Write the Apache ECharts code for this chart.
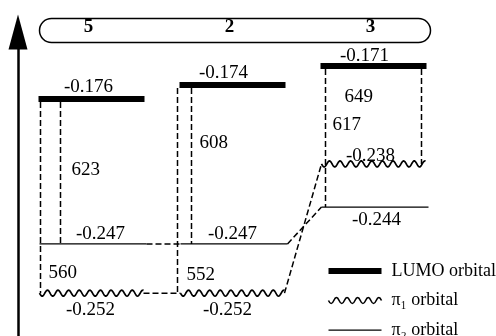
<!DOCTYPE html>
<html>
<head>
<meta charset="utf-8">
<script src="https://cdn.jsdelivr.net/npm/echarts@6.0.0/dist/echarts.min.js"></script>
<style>
  html, body { margin: 0; padding: 0; background: #fff; }
  #chart { width: 496px; height: 336px; }
</style>
</head>
<body>
<div id="chart"></div>
<script>
// compounds shown in the top band
const compounds = ['5', '2', '3'];
// orbital energies (a.u.)
const lumoEnergy = [-0.176, -0.174, -0.171];
const pi1Energy = [-0.252, -0.252, -0.238];
const pi2Energy = [-0.247, -0.247, -0.244];
// schematic height of each level as drawn (0-100, not to scale)
const lumoLevel = [78.0, 82.6, 88.8];
const pi1Level = [14.1, 14.1, 56.6];
const pi2Level = [30.3, 30.3, 42.4];
// transition wavelengths (nm): LUMO -> pi1, LUMO -> pi2
const nmPi1 = [560, 552, 649];
const nmPi2 = [623, 608, 617];

const FONT = '"Liberation Serif", "Times New Roman", serif';

// horizontal extent of each level around its column centre (px) and energy label offset [dx, dy]
const layout = {
  lumo: { ext: [-50, 56], label: [[0, -12], [-6, -12], [-6, -10]] },
  pi1: { ext: [-49, 55], label: [[2, 17], [-2, 17], [0, -8]] },
  pi2: { ext: [-49, 58], label: [[12, -10], [3, -10], [6, 13]] }
};
// dashed drop lines: x offset from column centre, wavelength label [dx, level]
const drops = {
  pi1: { dx: [-48, -52, 51], label: [[-40, 20.7], [-43, 20.1], [-26, 78.6]] },
  pi2: { dx: [-28, -38, -45], label: [[-17, 54.6], [-30, 63.5], [-38, 69.4]] }
};
const kinds = ['pi1', 'pi2'];
const DASH = [6, 3];

function wavePoints(x1, x2, y, period, amp) {
  const pts = [];
  for (let x = x1; x <= x2 + 0.01; x += 0.5) {
    pts.push([x, y + amp * Math.sin((x - x1) / period * 2 * Math.PI)]);
  }
  return pts;
}

function wavePathString(x1, x2, y, period, amp) {
  const half = period / 2;
  const n = Math.round((x2 - x1) / half);
  const step = (x2 - x1) / n;
  let d = 'M' + x1 + ',' + y;
  for (let k = 0; k < n; k++) {
    const s = k % 2 ? -1 : 1;
    d += 'Q' + (x1 + step * (k + 0.5)).toFixed(2) + ',' + (y + s * 2 * amp) + ',' + (x1 + step * (k + 1)).toFixed(2) + ',' + y;
  }
  return d;
}

function levelSeries(name, kind, energies, levels) {
  return {
    name: name,
    type: 'custom',
    data: energies.map((e, i) => [i, levels[i], e]),
    encode: { x: 0, y: 1 },
    itemStyle: { color: '#000' },
    renderItem(params, api) {
      const i = api.value(0);
      const p = api.coord([i, api.value(1)]);
      const ext = layout[kind].ext;
      const x1 = p[0] + ext[0], x2 = p[0] + ext[1], y = p[1];
      let mark;
      if (kind === 'lumo') {
        mark = { type: 'rect', shape: { x: x1, y: y - 3, width: x2 - x1, height: 6 }, style: { fill: '#000' } };
      } else if (kind === 'pi1') {
        mark = { type: 'polyline', shape: { points: wavePoints(x1, x2, y, 10.6, 3) }, style: { fill: 'none', stroke: '#000', lineWidth: 1.7 } };
      } else {
        mark = { type: 'line', shape: { x1: x1, y1: y, x2: x2, y2: y }, style: { stroke: '#000', lineWidth: 1.3 } };
      }
      const off = layout[kind].label[i];
      const text = {
        type: 'text',
        style: {
          text: api.value(2).toFixed(3), x: p[0] + off[0], y: y + off[1],
          align: 'center', verticalAlign: 'middle', font: '19px ' + FONT, fill: '#000'
        }
      };
      return { type: 'group', children: [mark, text] };
    }
  };
}

const transitionData = [];
compounds.forEach((c, i) => {
  transitionData.push([i, lumoLevel[i], pi1Level[i], nmPi1[i], 0]);
  transitionData.push([i, lumoLevel[i], pi2Level[i], nmPi2[i], 1]);
});

const connectorData = [];
for (let i = 0; i < compounds.length - 1; i++) {
  connectorData.push([i, pi1Level[i], pi1Level[i + 1], 0]);
  connectorData.push([i, pi2Level[i], pi2Level[i + 1], 1]);
}

const chart = echarts.init(document.getElementById('chart'));
const option = {
  animation: false,
  backgroundColor: '#fff',
  grid: { left: 18, right: 55, top: 32, bottom: 0 },
  xAxis: {
    type: 'category',
    data: compounds,
    position: 'top',
    axisLine: { show: false },
    axisTick: { show: false },
    axisLabel: { margin: -5, color: '#000', fontFamily: 'Liberation Serif', fontSize: 19, fontWeight: 'bold' },
    splitLine: { show: false }
  },
  yAxis: {
    type: 'value',
    min: 0,
    max: 100,
    axisLine: {
      show: true,
      symbol: ['none', 'triangle'],
      symbolSize: [19, 35],
      lineStyle: { color: '#000', width: 2.5 }
    },
    axisTick: { show: false },
    axisLabel: { show: false },
    splitLine: { show: false }
  },
  graphic: [{
    type: 'rect',
    left: 37, top: 16,
    shape: { width: 391, height: 24, r: 12 },
    style: { fill: 'none', stroke: '#000', lineWidth: 1.5 }
  }],
  legend: {
    orient: 'vertical',
    left: 321,
    top: 257,
    height: 120,
    itemWidth: 58,
    itemHeight: 16,
    itemGap: 10,
    selectedMode: false,
    textStyle: { fontFamily: FONT, fontSize: 18, color: '#000' },
    data: [
      { name: 'LUMO orbital', icon: 'path://M0,0M0,5h53v6h-53zM58,16', itemStyle: { color: '#000', borderWidth: 0 } },
      { name: 'π₁ orbital', icon: 'path://M0,0' + wavePathString(0, 53, 8, 10.6, 3) + 'M58,16', itemStyle: { color: 'none', borderColor: '#000', borderWidth: 1.6 } },
      { name: 'π₂ orbital', icon: 'path://M0,0M0,7.4h53v1.3h-53zM58,16', itemStyle: { color: '#000', borderWidth: 0 } }
    ]
  },
  series: [
    levelSeries('LUMO orbital', 'lumo', lumoEnergy, lumoLevel),
    levelSeries('π₁ orbital', 'pi1', pi1Energy, pi1Level),
    levelSeries('π₂ orbital', 'pi2', pi2Energy, pi2Level),
    {
      name: 'transitions',
      type: 'custom',
      data: transitionData,
      encode: { x: 0, y: 1 },
      renderItem(params, api) {
        const i = api.value(0);
        const kind = kinds[api.value(4)];
        const top = api.coord([i, api.value(1)]);
        const bot = api.coord([i, api.value(2)]);
        const x = top[0] + drops[kind].dx[i];
        const lab = drops[kind].label[i];
        const lp = api.coord([i, lab[1]]);
        return {
          type: 'group',
          children: [
            { type: 'line', shape: { x1: x, y1: top[1] + 3, x2: x, y2: bot[1] }, style: { stroke: '#000', lineWidth: 1.5, lineDash: DASH } },
            { type: 'text', style: { text: String(api.value(3)), x: lp[0] + lab[0], y: lp[1], align: 'left', verticalAlign: 'middle', font: '19px ' + FONT, fill: '#000' } }
          ]
        };
      }
    },
    {
      name: 'connectors',
      type: 'custom',
      data: connectorData,
      encode: { x: 0, y: 1 },
      renderItem(params, api) {
        const i = api.value(0);
        const kind = kinds[api.value(3)];
        const a = api.coord([i, api.value(1)]);
        const b = api.coord([i + 1, api.value(2)]);
        const ext = layout[kind].ext;
        return {
          type: 'line',
          shape: { x1: a[0] + ext[1], y1: a[1], x2: b[0] + ext[0], y2: b[1] },
          style: { stroke: '#000', lineWidth: 1.5, lineDash: DASH }
        };
      }
    }
  ]
};
chart.setOption(option);
</script>
</body>
</html>
